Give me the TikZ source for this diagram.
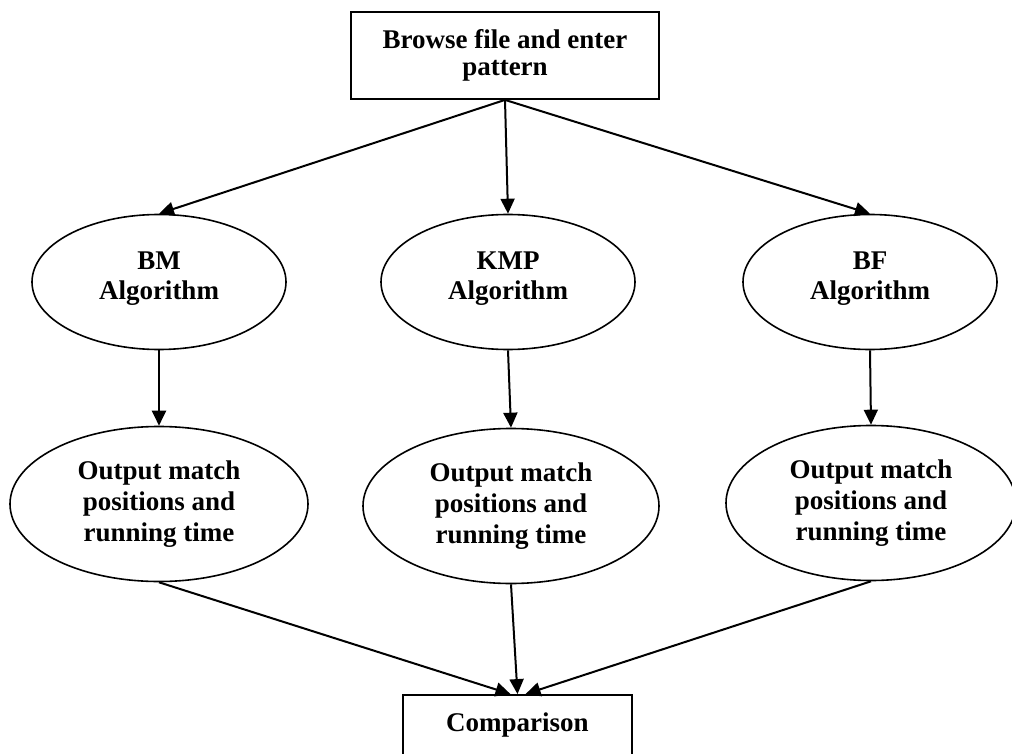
\documentclass[tikz,border=0pt]{standalone}
\usepackage{fontspec}
\setmainfont{Liberation Serif}
\usetikzlibrary{shapes.geometric,arrows.meta}
\tikzstyle{boxnode} = [rectangle, draw, line width=1.8pt, align=center, inner sep=0pt, font=\bfseries\fontsize{27}{27}\selectfont]
\tikzstyle{algnode} = [ellipse, draw, line width=1.6pt, align=center, inner sep=0pt, minimum width=254pt, minimum height=135pt, text depth=12pt, font=\bfseries\fontsize{27}{30}\selectfont]
\tikzstyle{outnode} = [ellipse, draw, line width=1.6pt, align=center, inner sep=0pt, minimum height=155pt, font=\bfseries\fontsize{27}{31}\selectfont]
\tikzstyle{flow} = [line width=2pt, -{Triangle[length=15pt,width=14pt]}]

\begin{document}
\begin{tikzpicture}[x=1pt, y=-1pt]
                \useasboundingbox (0, 0) rectangle (1012, 754);
                \node [boxnode, minimum width=308pt, minimum height=87pt] (browse) at (505, 55.5) {Browse file and enter\\pattern};
                \node [algnode] (bm) at (159, 282) {BM\\Algorithm};
                \node [algnode] (kmp) at (508, 282) {KMP\\Algorithm};
                \node [algnode] (bf) at (870, 282) {BF\\Algorithm};
                \node [outnode, minimum width=298pt] (outbm) at (159, 504) {Output match\\positions and\\running time};
                \node [outnode, minimum width=296pt] (outkmp) at (511, 506) {Output match\\positions and\\running time};
                \node [outnode, minimum width=290pt] (outbf) at (871, 503) {Output match\\positions and\\running time};
                \node [boxnode, minimum width=229pt, minimum height=61pt] (cmp) at (517.5, 725.5) {Comparison};
                \draw [flow] (browse.south) -- (bm.north);
                \draw [flow] (browse.south) -- (kmp.north);
                \draw [flow] (browse.south) -- (bf.north);
                \draw [flow] (bm.south) -- (outbm.north);
                \draw [flow] (kmp.south) -- (outkmp.north);
                \draw [flow] (bf.south) -- (outbf.north);
                \draw [flow] (outbm.south) -- ([xshift=-7pt]cmp.north);
                \draw [flow] (outkmp.south) -- (cmp.north);
                \draw [flow] (outbf.south) -- ([xshift=8pt]cmp.north);
            \end{tikzpicture}
\end{document}
